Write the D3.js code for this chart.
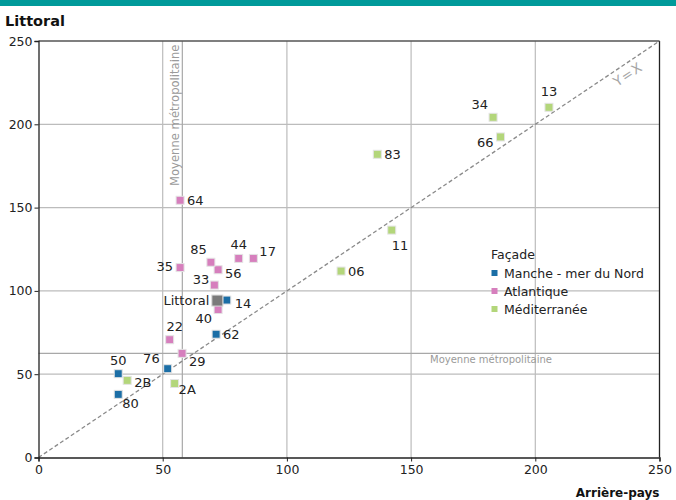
<!DOCTYPE html>
<html><head><meta charset="utf-8">
<script src="https://cdn.jsdelivr.net/npm/d3@7"></script>
<style>
body{margin:0;background:#fff;}
svg{display:block;font-family:"DejaVu Sans",Verdana,sans-serif;}
</style></head>
<body><svg id="c" width="676" height="500"></svg>
<script>
// ---- data ----
const codes   = ["50","76","80","14","62",
                 "22","29","35","56","44","85","17","33","40","64",
                 "2A","2B","06","83","13","34","66","11"];
const facade  = ["Manche - mer du Nord","Manche - mer du Nord","Manche - mer du Nord","Manche - mer du Nord","Manche - mer du Nord",
                 "Atlantique","Atlantique","Atlantique","Atlantique","Atlantique","Atlantique","Atlantique","Atlantique","Atlantique","Atlantique",
                 "Méditerranée","Méditerranée","Méditerranée","Méditerranée","Méditerranée","Méditerranée","Méditerranée","Méditerranée"];
const arriere = [32.1, 52.0, 32.1, 75.8, 71.5,
                 52.8, 57.8, 57.0, 72.3, 80.6, 69.4, 86.5, 70.8, 72.3, 57.0,
                 54.8, 35.7, 121.8, 136.4, 205.5, 183.0, 186.0, 142.2];
const littoral= [50.3, 53.3, 37.9, 94.5, 74.0,
                 70.7, 62.5, 114.0, 112.7, 119.5, 117.2, 119.5, 103.5, 88.8, 154.4,
                 44.4, 46.3, 111.9, 182.0, 210.2, 204.2, 192.4, 136.5];
const total   = {label:"Littoral", x:72.0, y:94.2};
const moyenne = {x:57.9, y:62.5};
const facades = ["Manche - mer du Nord","Atlantique","Méditerranée"];
const ticks   = [0,50,100,150,200,250];

// ---- style / layout ----
const colors = {"Manche - mer du Nord":"#1b6ea6","Atlantique":"#d67fbd","Méditerranée":"#b3d67a"};
const labelPlace = { // dx, dy, anchor
 "50":[0,-9,"middle"],"76":[-8,-6,"end"],"80":[4,14,"start"],"14":[8,8,"start"],"62":[7,5,"start"],
 "22":[5,-9,"middle"],"29":[7,13,"start"],"35":[-7,3,"end"],"56":[7,8,"start"],"44":[0,-9,"middle"],
 "85":[-4,-8,"end"],"17":[6,-2,"start"],"33":[-5,-1,"end"],"40":[-6,13,"end"],"64":[7,5,"start"],
 "2A":[4,10,"start"],"2B":[7,7,"start"],"06":[7,5,"start"],"83":[7,5,"start"],"13":[0,-11,"middle"],
 "34":[-5,-8,"end"],"66":[-7,10,"end"],"11":[0,20,"start"]
};

const svg = d3.select("#c");
const L=38.5, R=659.5, T=41, B=457.5;
const x = d3.scaleLinear().domain([0,250]).range([L,R]);
const y = d3.scaleLinear().domain([0,250]).range([B,T]);

svg.append("rect").attr("x",0).attr("y",0).attr("width",676).attr("height",6).attr("fill","#009a9a");

// grid
const g = svg.append("g");
ticks.slice(1,-1).forEach(t=>{
  g.append("line").attr("x1",x(t)).attr("x2",x(t)).attr("y1",T).attr("y2",B).attr("stroke","#bcbcbc").attr("stroke-width",1.2);
  g.append("line").attr("x1",L).attr("x2",R).attr("y1",y(t)).attr("y2",y(t)).attr("stroke","#bcbcbc").attr("stroke-width",1.2);
});
// mean lines
g.append("line").attr("x1",x(moyenne.x)).attr("x2",x(moyenne.x)).attr("y1",T).attr("y2",B).attr("stroke","#a8a8a8").attr("stroke-width",1.2);
g.append("line").attr("x1",L).attr("x2",R).attr("y1",y(moyenne.y)).attr("y2",y(moyenne.y)).attr("stroke","#a8a8a8").attr("stroke-width",1.2);
const vx = x(moyenne.x)-3.5, vy = 186;
g.append("text").attr("x",vx).attr("y",vy).attr("transform",`rotate(-90,${vx},${vy})`)
  .attr("font-size",11.6).attr("fill","#9a9a9a").text("Moyenne métropolitaine");
g.append("text").attr("x",430).attr("y",y(moyenne.y)+10).attr("font-size",10).attr("fill","#9a9a9a").text("Moyenne métropolitaine");

// frame
svg.append("line").attr("x1",L).attr("x2",R).attr("y1",T).attr("y2",T).attr("stroke","#555").attr("stroke-width",1.3);
svg.append("line").attr("x1",R).attr("x2",R).attr("y1",T).attr("y2",B).attr("stroke","#222").attr("stroke-width",1.3);

// diagonal
svg.append("line").attr("x1",x(0)).attr("y1",y(0)).attr("x2",x(250)).attr("y2",y(250))
  .attr("stroke","#8a8a8a").attr("stroke-width",1.3).attr("stroke-dasharray","4,2.5");
const ang = Math.atan2(y(250)-y(0), x(250)-x(0))*180/Math.PI;
svg.append("text").attr("transform",`translate(${x(235)},${y(235)}) rotate(${ang})`).attr("text-anchor","middle")
  .attr("y",10).attr("dy","0.35em").attr("letter-spacing",1)
  .attr("font-size",13.5).attr("fill","#a6a6a6").text("Y=X");

// axes
const ax = svg.append("g").attr("transform",`translate(0,${B})`)
  .call(d3.axisBottom(x).tickValues(ticks).tickSize(4).tickPadding(4));
const ay = svg.append("g").attr("transform",`translate(${L},0)`)
  .call(d3.axisLeft(y).tickValues(ticks).tickSize(4).tickPadding(2));
[ax,ay].forEach(a=>{
  a.select(".domain").attr("stroke","#222").attr("stroke-width",1.3);
  a.selectAll(".tick line").attr("stroke","#222");
  a.selectAll("text").attr("font-size",12.5).attr("fill","#222").attr("font-family","DejaVu Sans, sans-serif");
});
ay.selectAll(".tick text").attr("dy","0.32em");

svg.append("text").attr("x",5).attr("y",26).attr("font-size",14.5).attr("font-weight","bold").attr("fill","#111").text("Littoral");
svg.append("text").attr("x",R).attr("y",497).attr("text-anchor","end").attr("font-size",12).attr("font-weight","bold").attr("fill","#111").text("Arrière-pays");

// points
const pts = codes.map((c,i)=>({c, f:facade[i], x:arriere[i], y:littoral[i]}));
const pg = svg.append("g");
pg.selectAll("rect.pt").data(pts).join("rect").attr("class","pt")
  .attr("x",d=>x(d.x)-4).attr("y",d=>y(d.y)-4).attr("width",8).attr("height",8)
  .attr("fill",d=>colors[d.f]).attr("stroke","#e4e4e4").attr("stroke-width",1);
pg.selectAll("text.lb").data(pts).join("text").attr("class","lb")
  .attr("x",d=>x(d.x)+labelPlace[d.c][0]).attr("y",d=>y(d.y)+labelPlace[d.c][1])
  .attr("text-anchor",d=>labelPlace[d.c][2]).attr("font-size",13).attr("fill","#222").text(d=>d.c);
// total
pg.append("rect").attr("x",x(total.x)-5.5).attr("y",y(total.y)-5.5).attr("width",11).attr("height",11)
  .attr("fill","#7a7a7a").attr("stroke","#d8d8d8").attr("stroke-width",1);
pg.append("text").attr("x",x(total.x)-8).attr("y",y(total.y)+4).attr("text-anchor","end").attr("font-size",13).attr("fill","#222").text(total.label);

// legend
const lg = svg.append("g").attr("transform","translate(491,0)");
lg.append("text").attr("x",0).attr("y",259).attr("font-size",12.5).attr("fill","#222").text("Façade");
facades.forEach((f,i)=>{
  const yy = 273 + i*18;
  lg.append("rect").attr("x",0.5).attr("y",yy-3).attr("width",6).attr("height",6).attr("fill",colors[f]);
  lg.append("text").attr("x",13).attr("y",yy+4.5).attr("font-size",12.5).attr("fill","#222").text(f);
});
</script></body></html>
